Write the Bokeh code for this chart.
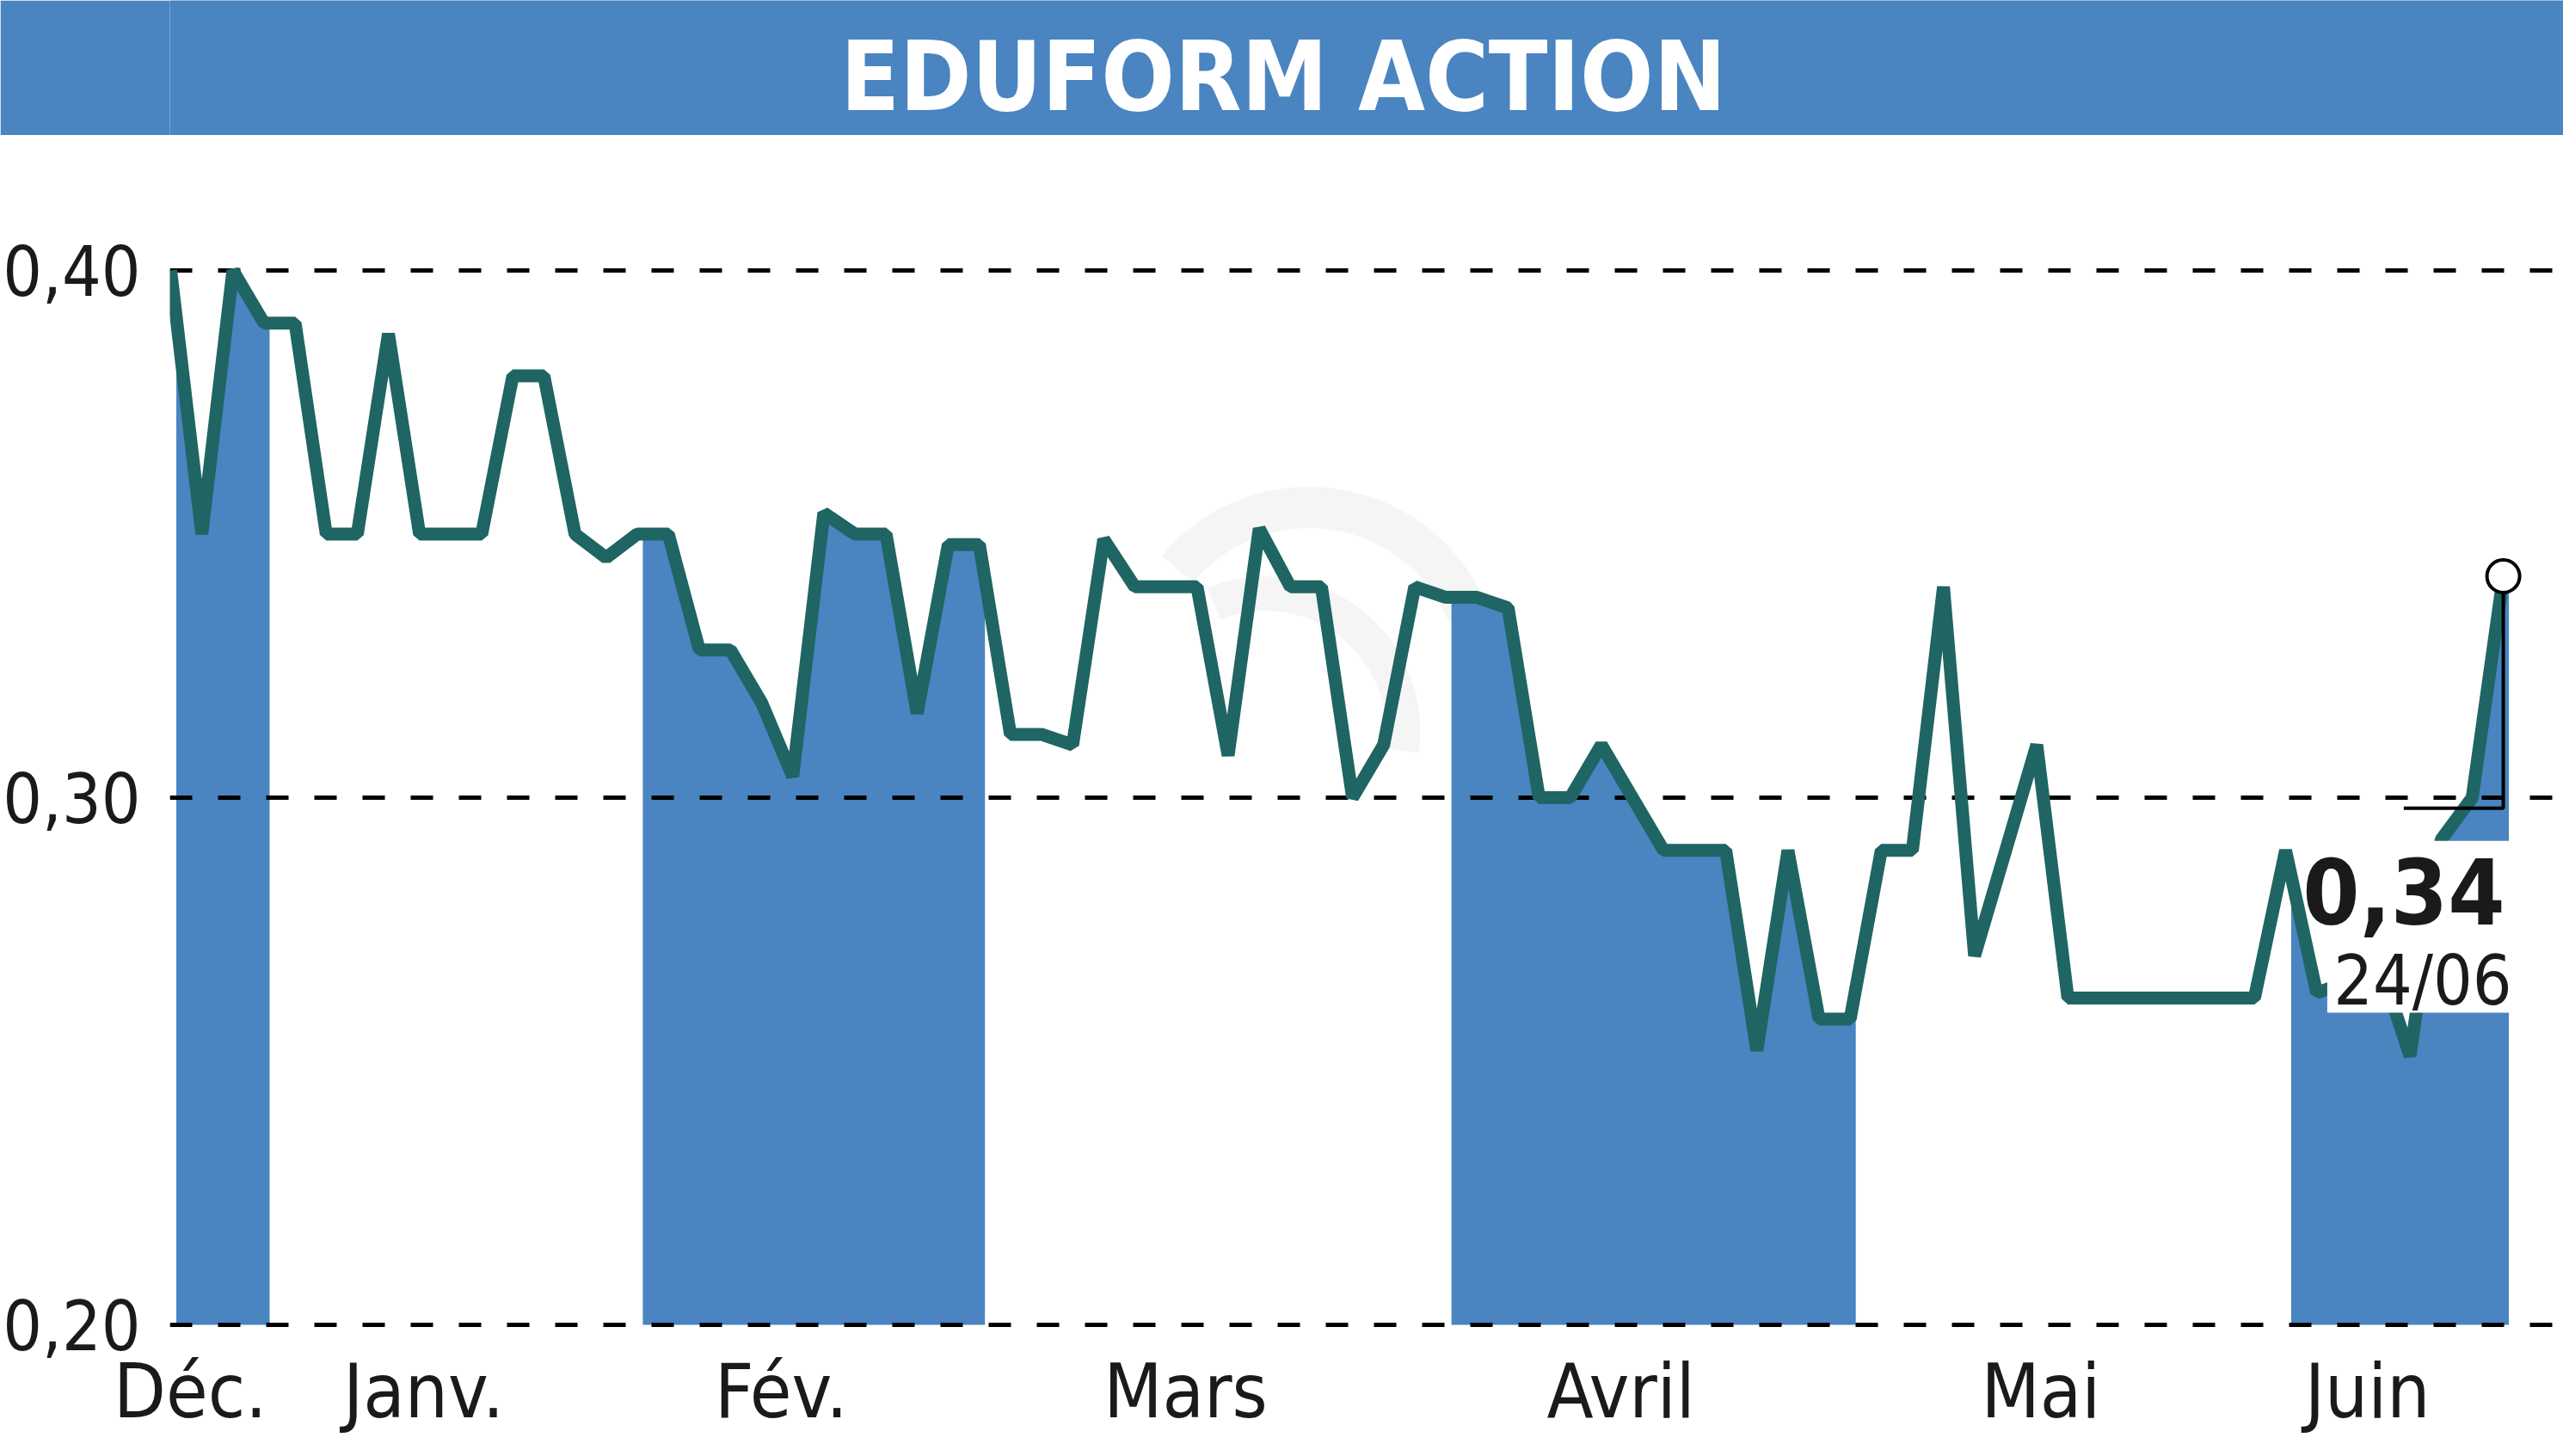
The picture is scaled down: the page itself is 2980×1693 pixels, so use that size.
import math
from bokeh.plotting import figure
from bokeh.models import Range1d, FixedTicker, Label, BoxAnnotation
from bokeh.layouts import column
from bokeh.core.properties import value
from bokeh.embed import file_html
from bokeh.resources import INLINE

# ---------------- data ----------------
title_text = "EDUFORM ACTION"
month_labels = ["Déc.", "Janv.", "Fév.", "Mars", "Avril", "Mai", "Juin"]
month_counts = [4, 11, 12, 14, 14, 13, 8]
shaded_months = [0, 2, 4, 6]
prices = [
    0.400, 0.350, 0.400, 0.390,                                   # Déc.
    0.390, 0.350, 0.350, 0.388, 0.350, 0.350, 0.350, 0.380, 0.380,
    0.350, 0.3455,                                                # Janv.
    0.350, 0.350, 0.328, 0.328, 0.318, 0.304, 0.354, 0.350, 0.350,
    0.316, 0.348, 0.348,                                          # Fév.
    0.312, 0.312, 0.310, 0.349, 0.340, 0.340, 0.340, 0.308, 0.351,
    0.340, 0.340, 0.300, 0.310, 0.340,                            # Mars
    0.338, 0.338, 0.336, 0.300, 0.300, 0.310, 0.300, 0.290, 0.290,
    0.290, 0.252, 0.290, 0.258, 0.258,                            # Avril
    0.290, 0.290, 0.340, 0.270, 0.290, 0.310, 0.262, 0.262, 0.262,
    0.262, 0.262, 0.262, 0.262,                                   # Mai
    0.290, 0.263, 0.265, 0.269, 0.251, 0.292, 0.300, 0.342,       # Juin
]
y_ticks = [0.20, 0.30, 0.40]
y_tick_labels = ["0,20", "0,30", "0,40"]
last_price_label = "0,34"
last_date_label = "24/06"

# ---------------- styles ----------------
BLUE = "#4A84C1"
TEAL = "#1F6563"
FONT = "'DejaVu Sans Condensed', 'DejaVu Sans', sans-serif"
W, H = 2980, 1693
TITLE_H = 157
MAIN_H = H - TITLE_H
FRAME_LEFT = 194
FRAME_TOP = 3            # inside the main figure (160 on the page)
FRAME_BOTTOM = 1545 - TITLE_H
FRAME_W = W - FRAME_LEFT
FILL_SHIFT = 0.18        # the shaded areas sit slightly right of the line

# ---------------- title bar ----------------
# (the column aligns this figure's frame with the main chart's frame)
pt = figure(width=W, height=TITLE_H, toolbar_location=None, output_backend="svg",
            x_range=Range1d(0, FRAME_W), y_range=Range1d(0, TITLE_H),
            min_border_left=FRAME_LEFT, min_border_right=0, min_border_top=0,
            min_border_bottom=0)
pt.axis.visible = False
pt.grid.visible = False
pt.outline_line_color = None
pt.background_fill_color = BLUE
pt.border_fill_color = BLUE
pt.text(x=[W / 2 - FRAME_LEFT], y=[69], text=[title_text],
        text_align="center", text_baseline="alphabetic", text_color="white",
        text_font=value(FONT), text_font_style="bold", text_font_size="112px")

# ---------------- main chart ----------------
n = len(prices)
xs = list(range(n))
starts = []
s = 0
for c in month_counts:
    starts.append(s)
    s += c

px_per_idx = 36.2
x_start = -1.0 / px_per_idx
x_end = x_start + FRAME_W / px_per_idx

p = figure(width=W, height=MAIN_H, toolbar_location=None, output_backend="svg",
           x_range=Range1d(x_start, x_end), y_range=Range1d(0.19918, 0.42512),
           min_border_left=FRAME_LEFT, min_border_right=0, min_border_top=FRAME_TOP,
           min_border_bottom=MAIN_H - FRAME_BOTTOM)
p.outline_line_color = None
p.background_fill_color = "white"
p.border_fill_color = "white"

# faint watermark swoosh behind the chart
wm = p.arc(x=[36.6, 35.2], y=[0.3224, 0.3126], radius=[200, 160], radius_units="screen",
           start_angle=[math.radians(22), math.radians(-8)],
           end_angle=[math.radians(140), math.radians(112)],
           line_color="#E6E9E6", line_alpha=0.45, line_width=[48, 40])
wm.level = "image"

# shaded month areas under the curve
for m in shaded_months:
    a = starts[m]
    b = a + month_counts[m]
    r = p.varea(x=[x + FILL_SHIFT for x in xs[a:b]], y1=[0.20] * (b - a),
                y2=prices[a:b], fill_color=BLUE)
    r.level = "image"

# price line
p.line(xs, prices, line_color=TEAL, line_width=15, line_join="bevel")

# last value bracket + marker
lx = xs[-1]
ly = prices[-1]
p.line([lx - 3.2, lx, lx], [0.298, 0.298, ly], line_color="black", line_width=4)
p.scatter([lx], [ly], marker="circle", size=38, fill_color="white",
          line_color="black", line_width=4)

# white label box + labels
p.add_layout(BoxAnnotation(left=lx - 5.66, right=lx + 0.25, top=0.2918, bottom=0.2592,
                           fill_color="white", fill_alpha=1.0, line_color=None))
p.add_layout(Label(x=lx, y=ly, x_offset=2, y_offset=-366, text=last_price_label,
                   text_align="right", text_baseline="alphabetic", text_color="#1a1a1a",
                   text_font=FONT, text_font_style="bold", text_font_size="106px"))
p.add_layout(Label(x=lx, y=ly, x_offset=10, y_offset=-470, text=last_date_label,
                   text_align="right", text_baseline="alphabetic", text_color="#1a1a1a",
                   text_font=FONT, text_font_size="80px"))

# grid
p.xgrid.visible = False
p.ygrid.ticker = FixedTicker(ticks=y_ticks)
p.ygrid.grid_line_color = "black"
p.ygrid.grid_line_width = 5
p.ygrid.grid_line_dash = "26 30"
p.ygrid.level = "underlay"

# y axis
p.yaxis.ticker = FixedTicker(ticks=y_ticks)
p.yaxis.major_label_overrides = dict(zip(y_ticks, y_tick_labels))
p.yaxis.axis_line_color = None
p.yaxis.major_tick_line_color = None
p.yaxis.minor_tick_line_color = None
p.yaxis.major_label_standoff = 28
p.yaxis.major_label_text_font = FONT
p.yaxis.major_label_text_font_size = "80px"
p.yaxis.major_label_text_color = "#1a1a1a"

# x axis (month labels)
centers = [round((starts[i] + starts[i] + month_counts[i] - 1) / 2 - 0.87, 2)
           for i in range(len(month_labels))]
p.xaxis.ticker = FixedTicker(ticks=centers)
p.xaxis.major_label_overrides = dict(zip(centers, month_labels))
p.xaxis.axis_line_color = None
p.xaxis.major_tick_line_color = None
p.xaxis.minor_tick_line_color = None
p.xaxis.major_label_standoff = 14
p.xaxis.major_label_text_font = FONT
p.xaxis.major_label_text_font_size = "88px"
p.xaxis.major_label_text_color = "#1a1a1a"

layout = column(pt, p, spacing=0)
open("out.html", "w").write(file_html(layout, INLINE))
